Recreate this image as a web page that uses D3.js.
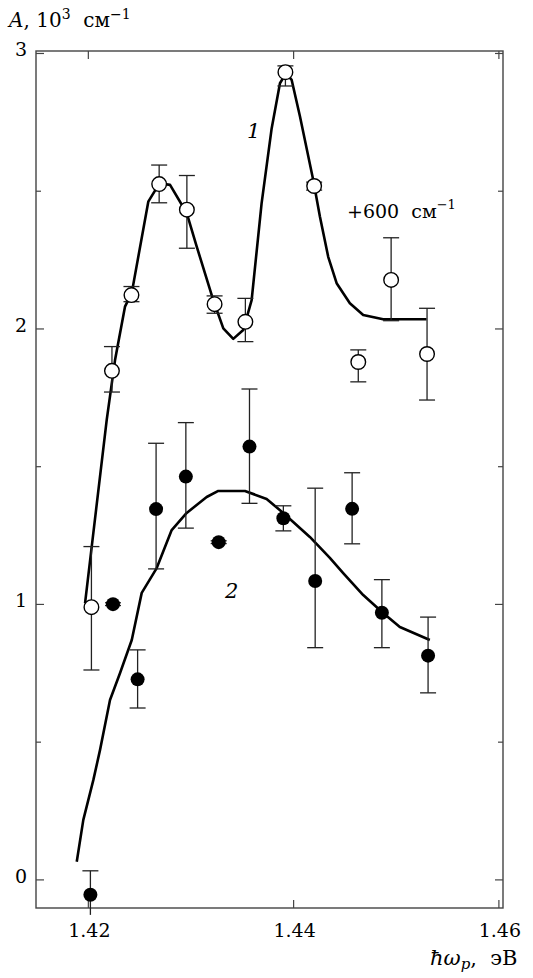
<!DOCTYPE html>
<head>
<meta charset="utf-8">
<style>
body { margin: 0; background: #fff; }
text { font-family: "DejaVu Serif", "Liberation Serif", serif; fill: #000; }
</style>
</head>
<body>

<script src="https://cdn.jsdelivr.net/npm/d3@7"></script>
<script>
// curve 1 (open circles, shifted by +600 cm^-1)
var x1pts = [1.4203, 1.4223, 1.4242, 1.4269, 1.4296, 1.4323, 1.4353, 1.4392, 1.4420, 1.4463, 1.4495, 1.4530];
var y1pts = [0.990, 1.848, 2.123, 2.526, 2.433, 2.090, 2.026, 2.932, 2.519, 1.880, 2.178, 1.909];
var y1hi  = [1.210, 1.936, 2.154, 2.595, 2.557, 2.120, 2.111, 2.955, 2.533, 1.924, 2.331, 2.075];
var y1lo  = [0.762, 1.771, 2.099, 2.458, 2.293, 2.057, 1.954, 2.882, 2.504, 1.808, 2.030, 1.742];

// curve 2 (filled circles)
var x2pts = [1.4202, 1.4224, 1.4248, 1.4266, 1.4295, 1.4327, 1.4357, 1.4390, 1.4421, 1.4457, 1.4486, 1.4531];
var y2pts = [-0.054, 1.001, 0.728, 1.346, 1.464, 1.226, 1.573, 1.313, 1.085, 1.347, 0.970, 0.814];
var y2hi  = [0.033, 1.006, 0.835, 1.585, 1.660, 1.231, 1.782, 1.358, 1.422, 1.478, 1.090, 0.954];
var y2lo  = [-0.127, 0.996, 0.624, 1.129, 1.277, 1.221, 1.367, 1.267, 0.843, 1.220, 0.843, 0.679];

// fitted lines
var fit1x = [1.41968, 1.42033, 1.42179, 1.42260, 1.42357, 1.42423, 1.42584, 1.42666, 1.42691, 1.42796,
             1.42958, 1.43056, 1.43217, 1.43315, 1.43412, 1.43509, 1.43591, 1.43688, 1.43786, 1.43867,
             1.43925, 1.43981, 1.44062, 1.44191, 1.44256, 1.44337, 1.44419, 1.44548, 1.44678, 1.44872, 1.45295];
var fit1y = [1.005, 1.210, 1.670, 1.887, 2.081, 2.131, 2.462, 2.512, 2.529, 2.523,
             2.421, 2.299, 2.105, 2.002, 1.964, 1.996, 2.105, 2.456, 2.728, 2.892,
             2.928, 2.904, 2.771, 2.541, 2.408, 2.262, 2.166, 2.093, 2.051, 2.035, 2.035];
var fit2x = [1.41887, 1.41951, 1.42049, 1.42114, 1.42211, 1.42309, 1.42423, 1.42520, 1.42666, 1.42812,
             1.42958, 1.43153, 1.43266, 1.43526, 1.43737, 1.43899, 1.44158, 1.44353, 1.44483, 1.44678,
             1.44872, 1.45035, 1.45327];
var fit2y = [0.066, 0.218, 0.363, 0.472, 0.653, 0.751, 0.871, 1.042, 1.132, 1.270,
             1.332, 1.390, 1.412, 1.412, 1.383, 1.332, 1.245, 1.169, 1.114, 1.034,
             0.969, 0.918, 0.871];

var xTicks = [1.42, 1.44, 1.46];
var xTickLabels = ["1.42", "1.44", "1.46"];
var yTicks = [0, 1, 2, 3];
var yMinor = [0.5, 1.5, 2.5];

width = 533, height = 978;
left = 36, right = 503, top0 = 51, bottom = 908;

svg = d3.select("body").append("svg")
    .attr("width", width)
    .attr("height", height);

x = d3.scaleLinear().domain([1.4149, 1.4604]).range([left, right]);
y = d3.scaleLinear().domain([-0.102, 3.009]).range([bottom, top0]);

// frame
svg.append("rect")
    .attr("x", left)
    .attr("y", top0)
    .attr("width", right - left)
    .attr("height", bottom - top0)
    .attr("fill", "none")
    .attr("stroke", "#444")
    .attr("stroke-width", 1.4);

// y ticks, both sides
yTicks.concat(yMinor).forEach(function (v) {
    var len = yTicks.indexOf(v) >= 0 ? 8 : 5;
    svg.append("line").attr("x1", left).attr("x2", left + len)
        .attr("y1", y(v)).attr("y2", y(v)).attr("stroke", "#444").attr("stroke-width", 1.2);
    svg.append("line").attr("x1", right).attr("x2", right - len)
        .attr("y1", y(v)).attr("y2", y(v)).attr("stroke", "#444").attr("stroke-width", 1.2);
});
svg.selectAll(".ylab").data(yTicks).enter().append("text")
    .attr("x", 27)
    .attr("y", function (d) { return y(d) + 3; })
    .attr("text-anchor", "end")
    .attr("font-size", 19)
    .text(function (d) { return d; });

// x ticks, top and bottom
xTicks.forEach(function (v) {
    svg.append("line").attr("x1", x(v)).attr("x2", x(v))
        .attr("y1", bottom).attr("y2", bottom - 8).attr("stroke", "#444").attr("stroke-width", 1.2);
    svg.append("line").attr("x1", x(v)).attr("x2", x(v))
        .attr("y1", top0).attr("y2", top0 + 8).attr("stroke", "#444").attr("stroke-width", 1.2);
});
svg.selectAll(".xlab").data(xTicks).enter().append("text")
    .attr("x", function (d) { return x(d) + 1; })
    .attr("y", 937)
    .attr("text-anchor", "middle")
    .attr("font-size", 19)
    .text(function (d, i) { return xTickLabels[i]; });

// axis titles
t = svg.append("text").attr("x", 9).attr("y", 27).attr("font-size", 20)
    .attr("xml:space", "preserve");
t.append("tspan").attr("font-style", "italic").text("A");
t.append("tspan").text(", 10");
t.append("tspan").attr("font-size", 14).attr("dy", -8).text("3");
t.append("tspan").attr("dy", 8).text("  см");
t.append("tspan").attr("font-size", 14).attr("dy", -8).text("−1");

t = svg.append("text").attr("x", 430).attr("y", 965).attr("font-size", 21)
    .attr("xml:space", "preserve");
t.append("tspan").attr("font-style", "italic").text("ħω");
t.append("tspan").attr("font-style", "italic").attr("font-size", 15).attr("dy", 4).text("p");
t.append("tspan").attr("dy", -4).text(",  эВ");

// labels in plot
svg.append("text").attr("x", 247).attr("y", 138).attr("font-size", 21)
    .attr("font-style", "italic").text("1");
svg.append("text").attr("x", 225).attr("y", 598).attr("font-size", 21)
    .attr("font-style", "italic").text("2");
t = svg.append("text").attr("x", 347).attr("y", 218).attr("font-size", 19)
    .attr("xml:space", "preserve");
t.append("tspan").text("+600  см");
t.append("tspan").attr("font-size", 13).attr("dy", -9).text("−1");

// fitted lines
line = d3.line()
    .x(function (d) { return x(d[0]); })
    .y(function (d) { return y(d[1]); });
svg.append("path")
    .attr("d", line(d3.zip(fit1x, fit1y)))
    .attr("fill", "none").attr("stroke", "#000").attr("stroke-width", 2.6)
    .attr("stroke-linejoin", "round");
svg.append("path")
    .attr("d", line(d3.zip(fit2x, fit2y)))
    .attr("fill", "none").attr("stroke", "#000").attr("stroke-width", 2.6)
    .attr("stroke-linejoin", "round");

// error bars
function errBars(xs, ys, his, los) {
    for (i = 0; i < xs.length; i++) {
        var cx = x(xs[i]);
        svg.append("line").attr("x1", cx).attr("x2", cx)
            .attr("y1", y(his[i])).attr("y2", y(los[i]))
            .attr("stroke", "#222").attr("stroke-width", 1.3);
        [his[i], los[i]].forEach(function (v) {
            if (v < y.domain()[0]) return;
            svg.append("line").attr("x1", cx - 8).attr("x2", cx + 8)
                .attr("y1", y(v)).attr("y2", y(v))
                .attr("stroke", "#222").attr("stroke-width", 1.3);
        });
    }
}
errBars(x1pts, y1pts, y1hi, y1lo);
errBars(x2pts, y2pts, y2hi, y2lo);

// points
svg.selectAll(".p1").data(d3.zip(x1pts, y1pts)).enter().append("circle")
    .attr("cx", function (d) { return x(d[0]); })
    .attr("cy", function (d) { return y(d[1]); })
    .attr("r", 7.3)
    .attr("fill", "#fff").attr("stroke", "#000").attr("stroke-width", 1.4);
svg.selectAll(".p2").data(d3.zip(x2pts, y2pts)).enter().append("circle")
    .attr("cx", function (d) { return x(d[0]); })
    .attr("cy", function (d) { return y(d[1]); })
    .attr("r", 7)
    .attr("fill", "#000");
</script>
</body>
